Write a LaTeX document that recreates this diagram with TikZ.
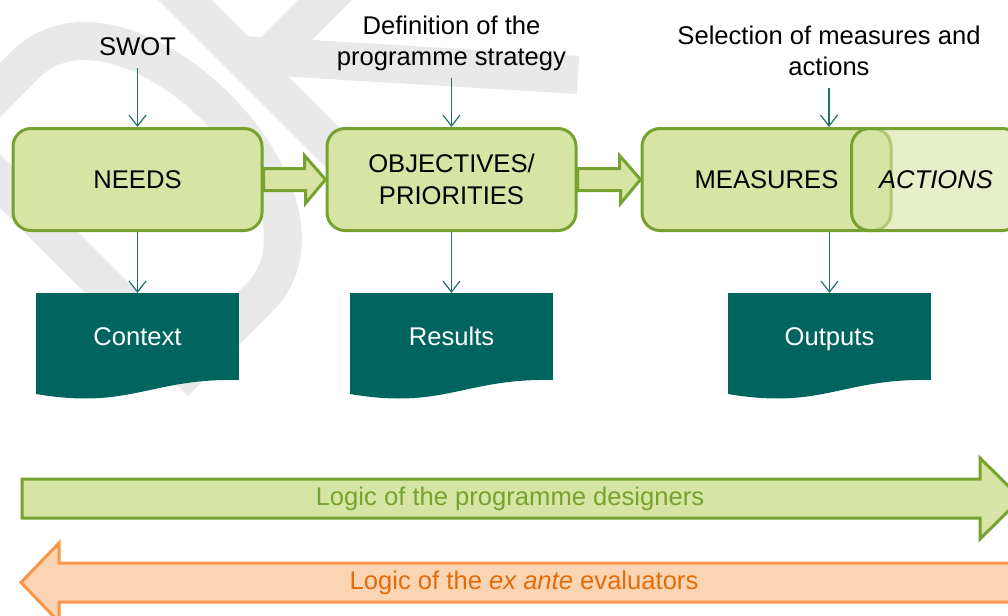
\documentclass[tikz,border=0pt]{standalone}
\usepackage{fontspec}
\setmainfont{Liberation Sans}
\usepackage{tikz}
\usetikzlibrary{arrows.meta}
\usetikzlibrary{calc}
\definecolor{stagefill}{HTML}{D6E4A4}
\definecolor{stageline}{HTML}{77A22F}
\definecolor{docfill}{HTML}{00645F}
\definecolor{linkcol}{HTML}{21706E}
\definecolor{evalfill}{HTML}{FBD4B4}
\definecolor{evalline}{HTML}{F79646}
\definecolor{evaltext}{HTML}{E36C09}
\definecolor{wmgrey}{HTML}{E9E9E9}
\tikzset{stage/.style={draw=stageline,fill=stagefill,line width=1.5pt,
                       rounded corners=9pt,minimum width=124.5pt,
                       minimum height=51pt,align=center}}
\tikzset{doc/.style={fill=docfill,text=white,outer sep=0pt,text depth=0pt,
                     minimum width=101.5pt,minimum height=43.5pt}}
\tikzset{note/.style={anchor=south,align=center,text depth=0.25em}}
\tikzset{link/.style={draw=linkcol,line width=0.6pt,->}}
\tikzset{flow/.style={draw=stageline,fill=stagefill,line width=1.5pt}}
\tikzset{wmark/.style={draw=wmgrey,line width=19pt,miter limit=20}}

\begin{document}
\begin{tikzpicture}[x=0.5pt,y=-0.5pt,font=\fontsize{12.8}{15.8}\selectfont,
                    >={Straight Barb[length=5.5pt,width=8.5pt]}]

    \useasboundingbox (0,0) rectangle (1008,616);

    % faint watermark behind everything
    \draw[wmark] (188,369) -- (-45,136) -- (25,65)
        .. controls (124,-34) and (358,199) .. (259,298) -- cycle;
    \draw[wmark] (150,-35) -- (370,185);
    \draw[wmark] (255,70) -- (350,-25);
    \draw[wmark] (245,55) -- (578,75);

    \node[stage] (needs) at (137.5,179.5) {NEEDS};
    \node[stage] (obj) at (451.5,179.5) {OBJECTIVES/\\PRIORITIES};
    \node[stage] (meas) at (766.5,179.5) {MEASURES};
    \node[stage,fill opacity=0.6,text opacity=1,minimum width=84.5pt]
        (act) at (936,179.5) {\itshape ACTIONS};

    \draw[flow] ($(needs.east)+(0,-11)$) -- ++(41,0) -- ++(0,-13) -- (obj.west)
        -- ++(-20,24) -- ++(0,-13) -- ($(needs.east)+(0,11)$) -- cycle;
    \draw[flow] ($(obj.east)+(0,-11)$) -- ++(42,0) -- ++(0,-13) -- (meas.west)
        -- ++(-20,24) -- ++(0,-13) -- ($(obj.east)+(0,11)$) -- cycle;

    \node[note] (swot) at (137.5,68) {SWOT};
    \node[note] (strat) at (451.5,78) {Definition of the\\programme strategy};
    \node[note] (sel) at (829,88) {Selection of measures and\\actions};

    \node[doc] (ctx) at (137.5,336.5) {Context};
    \node[doc] (res) at (451.5,336.5) {Results};
    \node[doc] (out) at (829.5,336.5) {Outputs};
    \foreach \d in {ctx,res,out}
        \fill[docfill] ($(\d.south east)+(0,-1)$) -- (\d.south east)
            .. controls +(-89,-2) and +(94,16) .. ($(\d.south west)+(0,14)$)
            -- ($(\d.south west)+(0,-1)$) -- cycle;

    \draw[link] (swot.south) -- (needs.north);
    \draw[link] (strat.south) -- (obj.north);
    \draw[link] (sel.south) -- (sel.south |- meas.north);
    \draw[link] (needs.south) -- (ctx.north);
    \draw[link] (obj.south) -- (res.north);
    \draw[link] (meas.south -| out.north) -- (out.north);

    \draw[flow] (22,479) -- (980,479) -- (980,458) -- (1021,498.5)
        -- (980,539) -- (980,518) -- (22,518) -- cycle;
    \node[text=stageline] (plan) at (510,498.5) {Logic of the programme designers};

    \draw[draw=evalline,fill=evalfill,line width=1.5pt] (1015,563) -- (59,563)
        -- (59,543) -- (21,582.5) -- (59,622) -- (59,602) -- (1015,602) -- cycle;
    \node[text=evaltext] (eval) at (524,582.5) {Logic of the \textit{ex ante} evaluators};

\end{tikzpicture}
\end{document}
